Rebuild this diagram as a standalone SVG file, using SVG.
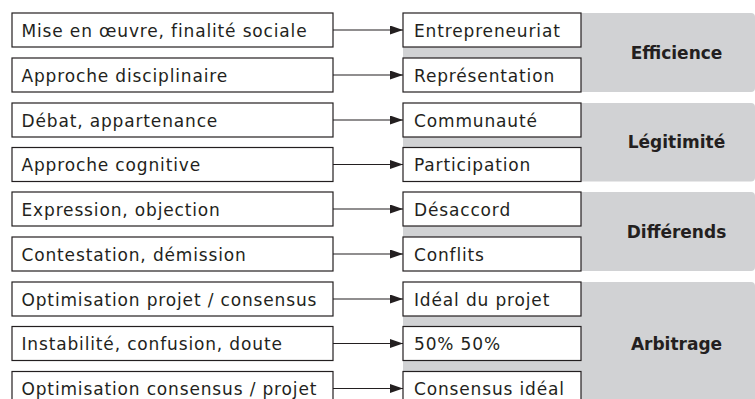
<svg xmlns="http://www.w3.org/2000/svg" width="755" height="399" viewBox="0 0 755 399">
<style>
.box{fill:#fff;stroke:#231f20;stroke-width:1.2}
.panel{fill:#d1d2d4}
.t{font-family:"DejaVu Sans","Liberation Sans",sans-serif;font-size:17px;letter-spacing:0.85px;fill:#231f20}
.lbl{font-family:"DejaVu Sans","Liberation Sans",sans-serif;font-size:17px;font-weight:bold;fill:#231f20;text-anchor:middle}
.c{stroke:#231f20;stroke-width:1.2;fill:none;marker-end:url(#ah)}
</style>
<defs>
<marker id="ah" markerUnits="userSpaceOnUse" markerWidth="14" markerHeight="10" refX="13" refY="4.5" orient="auto">
<path d="M0,0 L13,4.5 L0,9 Z" fill="#231f20"/>
</marker>
</defs>
<g id="panels">
<g id="efficience"><rect class="panel" x="403" y="13" width="352" height="79" rx="4"/><text class="lbl" x="676.5" y="58.5">Efficience</text></g>
<g id="legitimite"><rect class="panel" x="403" y="103" width="352" height="78.5" rx="4"/><text class="lbl" x="676.5" y="148">Légitimité</text></g>
<g id="differends"><rect class="panel" x="403" y="192" width="352" height="79" rx="4"/><text class="lbl" x="676.5" y="237.5">Différends</text></g>
<g id="arbitrage"><rect class="panel" x="403" y="282" width="352" height="130" rx="4"/><text class="lbl" x="676.5" y="349.5">Arbitrage</text></g>
</g>
<g id="connectors">
<line class="c" x1="333" y1="30" x2="403" y2="30"/>
<line class="c" x1="333" y1="75" x2="403" y2="75"/>
<line class="c" x1="333" y1="120" x2="403" y2="120"/>
<line class="c" x1="333" y1="164.5" x2="403" y2="164.5"/>
<line class="c" x1="333" y1="209" x2="403" y2="209"/>
<line class="c" x1="333" y1="254" x2="403" y2="254"/>
<line class="c" x1="333" y1="299" x2="403" y2="299"/>
<line class="c" x1="333" y1="343.5" x2="403" y2="343.5"/>
<line class="c" x1="333" y1="388.5" x2="403" y2="388.5"/>
</g>
<g id="left1"><rect class="box" x="12" y="13" width="321" height="34"/><text class="t" x="21.5" y="36.5">Mise en œuvre, finalité sociale</text></g>
<g id="left2"><rect class="box" x="12" y="58" width="321" height="34"/><text class="t" x="21.5" y="81.5">Approche disciplinaire</text></g>
<g id="left3"><rect class="box" x="12" y="103" width="321" height="34"/><text class="t" x="21.5" y="126.5">Débat, appartenance</text></g>
<g id="left4"><rect class="box" x="12" y="147.5" width="321" height="34"/><text class="t" x="21.5" y="171">Approche cognitive</text></g>
<g id="left5"><rect class="box" x="12" y="192" width="321" height="34"/><text class="t" x="21.5" y="215.5">Expression, objection</text></g>
<g id="left6"><rect class="box" x="12" y="237" width="321" height="34"/><text class="t" x="21.5" y="260.5">Contestation, démission</text></g>
<g id="left7"><rect class="box" x="12" y="282" width="321" height="34"/><text class="t" x="21.5" y="305.5">Optimisation projet / consensus</text></g>
<g id="left8"><rect class="box" x="12" y="326.5" width="321" height="34"/><text class="t" x="21.5" y="350">Instabilité, confusion, doute</text></g>
<g id="left9"><rect class="box" x="12" y="371.5" width="321" height="34"/><text class="t" x="21.5" y="395">Optimisation consensus / projet</text></g>
<g id="right1"><rect class="box" x="403" y="13" width="178" height="34"/><text class="t" x="414" y="36.5">Entrepreneuriat</text></g>
<g id="right2"><rect class="box" x="403" y="58" width="178" height="34"/><text class="t" x="414" y="81.5">Représentation</text></g>
<g id="right3"><rect class="box" x="403" y="103" width="178" height="34"/><text class="t" x="414" y="126.5">Communauté</text></g>
<g id="right4"><rect class="box" x="403" y="147.5" width="178" height="34"/><text class="t" x="414" y="171">Participation</text></g>
<g id="right5"><rect class="box" x="403" y="192" width="178" height="34"/><text class="t" x="414" y="215.5">Désaccord</text></g>
<g id="right6"><rect class="box" x="403" y="237" width="178" height="34"/><text class="t" x="414" y="260.5">Conflits</text></g>
<g id="right7"><rect class="box" x="403" y="282" width="178" height="34"/><text class="t" x="414" y="305.5">Idéal du projet</text></g>
<g id="right8"><rect class="box" x="403" y="326.5" width="178" height="34"/><text class="t" x="414" y="350">50% 50%</text></g>
<g id="right9"><rect class="box" x="403" y="371.5" width="178" height="34"/><text class="t" x="414" y="395">Consensus idéal</text></g>
</svg>
